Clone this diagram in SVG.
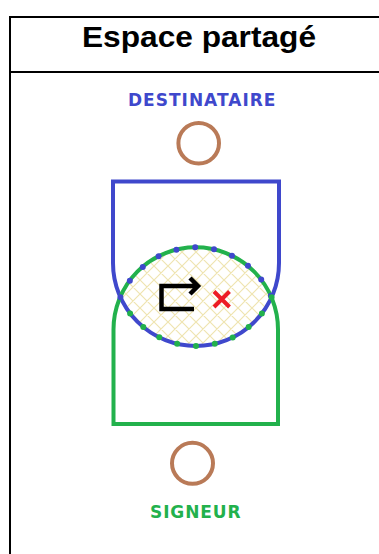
<svg xmlns="http://www.w3.org/2000/svg" width="379" height="554" viewBox="0 0 379 554">
  <style>
    .frame { fill: #ffffff; stroke: #000000; stroke-width: 2; }
    .title { font-family: "Liberation Sans", Arial, sans-serif; font-weight: bold; font-size: 29.5px; fill: #000000; }
    .label { font-family: "DejaVu Sans", Verdana, sans-serif; font-weight: bold; font-size: 17px; }
    .person { fill: none; stroke: #b97a57; stroke-width: 4; }
    .blue { fill: none; stroke: #3f48cc; stroke-width: 4; }
    .green { fill: none; stroke: #22b14c; stroke-width: 4; }
    .dots { fill: none; stroke-width: 6; stroke-linecap: round; stroke-dasharray: 0 19; }
  </style>
  <defs>
    <pattern id="hatch" x="0" y="0" width="14" height="14" patternUnits="userSpaceOnUse">
      <path d="M0,0 L14,14 M14,0 L0,14 M-1,13 L1,15 M13,-1 L15,1 M-1,1 L1,-1 M13,15 L15,13" stroke="#efe4b0" stroke-width="1.2" fill="none"/>
    </pattern>
  </defs>

  <g id="frame">
    <rect class="frame" x="10" y="17" width="400" height="600"/>
    <line x1="10" y1="72" x2="379" y2="72" stroke="#000000" stroke-width="2"/>
  </g>

  <g id="title">
    <text class="title" x="82" y="47.3" textLength="234" lengthAdjust="spacingAndGlyphs">Espace partagé</text>
  </g>

  <g id="destinataire">
    <text class="label" x="128" y="105.5" fill="#3f48cc" letter-spacing="1">DESTINATAIRE</text>
    <circle class="person" cx="198.7" cy="143.3" r="20.3"/>
  </g>

  <g id="shared-zone">
    <path d="M120.4,297.2 A82.25,82.25 0 0 1 271.6,297.2 A83,83 0 0 1 120.4,297.2 Z" fill="url(#hatch)"/>
  </g>

  <g id="blue-zone">
    <path class="blue" d="M113,263 V181.5 H279 V263 A83,83 0 0 1 113,263 Z"/>
  </g>

  <g id="green-zone">
    <path class="green" d="M113.5,329.5 V424 H278 V329.5 A82.25,82.25 0 0 0 113.5,329.5 Z"/>
  </g>

  <g id="shared-border">
    <path class="dots" stroke="#3f48cc" d="M120.4,297.2 A82.25,82.25 0 0 1 271.6,297.2"/>
    <path class="dots" stroke="#22b14c" d="M271.6,297.2 A83,83 0 0 1 120.4,297.2"/>
  </g>

  <g id="icons">
    <path d="M194,309 H161.5 V286 H197 M190,278 L198,286 L190,294" fill="none" stroke="#000000" stroke-width="4.5" stroke-linejoin="miter"/>
    <path d="M214,291.5 L229.5,307 M229.5,291.5 L214,307" fill="none" stroke="#ed1c24" stroke-width="4"/>
  </g>

  <g id="signeur">
    <circle class="person" cx="192.5" cy="463.3" r="20.5"/>
    <text class="label" x="150" y="517.5" fill="#22b14c" letter-spacing="0.9">SIGNEUR</text>
  </g>
</svg>
